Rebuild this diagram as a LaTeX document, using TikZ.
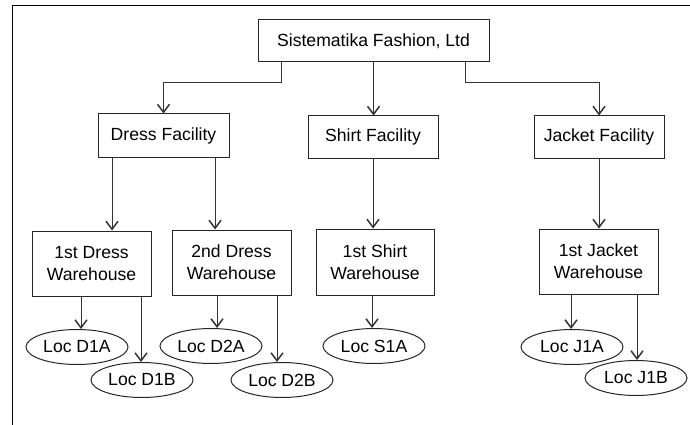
\documentclass[tikz,border=0pt]{standalone}
\usepackage{fontspec}
\setmainfont{Liberation Sans}
\usetikzlibrary{arrows.meta,shapes.geometric}
\begin{document}
\begin{tikzpicture}[x=1pt, y=-1pt, >={Straight Barb[length=8pt,width=12pt,line width=1.5pt]},
  every node/.style={font=\fontsize{17.6}{22}\selectfont},
  unit/.style={draw=black!85, line width=1pt, inner sep=0pt, align=center},
  loc/.style={draw=black!85, ellipse, line width=1pt, inner sep=0pt, minimum width=102pt, minimum height=35pt},
  link/.style={->, line width=1pt, draw=black!80}]
  \useasboundingbox (0,0) rectangle (690,425);
  \draw[line width=1pt] (12,425) -- (12,6) -- (690,6);

  \node[unit, minimum width=231pt, minimum height=42pt] (root) at (373.5,41) {Sistematika Fashion, Ltd};

  \node[unit, minimum width=131pt, minimum height=43pt] (dfac) at (163.5,135.5) {Dress Facility};
  \node[unit, minimum width=130pt, minimum height=42pt] (sfac) at (373,137) {Shirt Facility};
  \node[unit, minimum width=130pt, minimum height=42pt] (jfac) at (599,137) {Jacket Facility};

  \node[unit, minimum width=119pt, minimum height=65pt] (dw1) at (91.5,263.5) {1st Dress\\Warehouse};
  \node[unit, minimum width=119pt, minimum height=65pt] (dw2) at (231.5,262.5) {2nd Dress\\Warehouse};
  \node[unit, minimum width=118pt, minimum height=66pt] (sw1) at (375,262) {1st Shirt\\Warehouse};
  \node[unit, minimum width=119pt, minimum height=65pt] (jw1) at (598.5,261.5) {1st Jacket\\Warehouse};

  \node[loc] (d1a) at (77,347) {Loc D1A};
  \node[loc] (d1b) at (142,380) {Loc D1B};
  \node[loc] (d2a) at (211,346) {Loc D2A};
  \node[loc] (d2b) at (282,380) {Loc D2B};
  \node[loc] (s1a) at (374,346) {Loc S1A};
  \node[loc] (j1a) at (572,347) {Loc J1A};
  \node[loc] (j1b) at (636,378) {Loc J1B};

  \draw[link] ([xshift=-92.5pt]root.south) -- ++(0,20) -| (dfac.north);
  \draw[link] (root.south) -- (root.south |- sfac.north);
  \draw[link] ([xshift=91.5pt]root.south) -- ++(0,20) -| (jfac.north);

  \draw[link] ([xshift=-51.5pt]dfac.south) -- ([xshift=-51.5pt]dfac.south |- dw1.north);
  \draw[link] ([xshift=51.5pt]dfac.south) -- ([xshift=51.5pt]dfac.south |- dw2.north);
  \draw[link] (sfac.south) -- (sfac.south |- sw1.north);
  \draw[link] (jfac.south) -- (jfac.south |- jw1.north);

  \draw[link] ([xshift=-10.5pt]dw1.south) -- ([xshift=-10.5pt]dw1.south |- d1a.north);
  \draw[link] ([xshift=49.5pt]dw1.south) -- ([xshift=49.5pt]dw1.south |- d1b.north);
  \draw[link] ([xshift=-14.5pt]dw2.south) -- ([xshift=-14.5pt]dw2.south |- d2a.north);
  \draw[link] ([xshift=45.5pt]dw2.south) -- ([xshift=45.5pt]dw2.south |- d2b.north);
  \draw[link] ([xshift=-3pt]sw1.south) -- ([xshift=-3pt]sw1.south |- s1a.north);
  \draw[link] ([xshift=-27.5pt]jw1.south) -- ([xshift=-27.5pt]jw1.south |- j1a.north);
  \draw[link] ([xshift=38.5pt]jw1.south) -- ([xshift=38.5pt]jw1.south |- j1b.north);
\end{tikzpicture}
\end{document}
